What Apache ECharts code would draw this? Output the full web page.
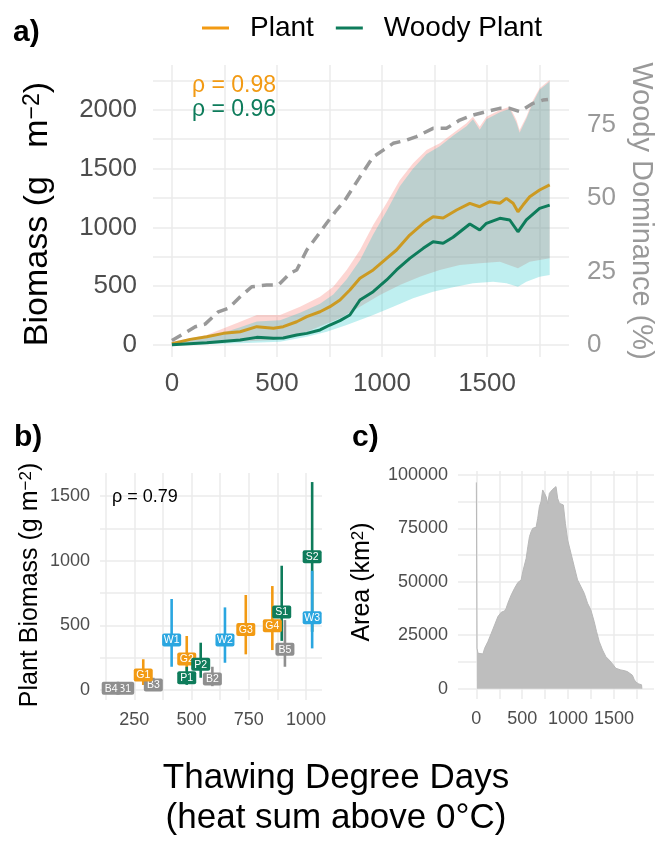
<!DOCTYPE html>
<html><head><meta charset="utf-8">
<script src="https://cdn.jsdelivr.net/npm/echarts@6/dist/echarts.min.js"></script>
<style>html,body{margin:0;padding:0;background:#fff}#c{width:657px;height:845px}</style>
</head><body><div id="c"></div>
<script>
const FONT = '"Liberation Sans", Arial, Helvetica, sans-serif';

// ---------- Panel a data ----------
const domX = [0, 8, 111, 158, 221, 269, 325, 380, 451, 507, 562, 594, 642, 689, 737, 784, 824, 895, 958, 1006, 1053, 1117, 1164, 1243, 1307, 1370, 1433, 1497, 1560, 1608, 1655, 1719, 1766, 1790];
const domY = [1.5, 1.9, 6.2, 7.1, 11.3, 12.5, 16.4, 19.8, 20.4, 20.4, 24.4, 25.5, 32.3, 36.8, 41.5, 45.9, 49.3, 57.2, 64.0, 66.3, 68.6, 69.7, 70.9, 73.7, 73.7, 76.5, 78.2, 79.4, 80.5, 80.5, 79.4, 82.2, 83.3, 83.5];

const plantX = [0, 87, 166, 245, 325, 404, 483, 530, 594, 642, 705, 752, 800, 847, 895, 958, 1022, 1069, 1132, 1196, 1243, 1291, 1355, 1418, 1465, 1513, 1561, 1592, 1624, 1647, 1671, 1703, 1750, 1798];
const plantY = [10, 48, 71, 99, 113, 156, 142, 156, 198, 241, 283, 326, 383, 468, 567, 638, 737, 808, 935, 1035, 1091, 1080, 1148, 1205, 1176, 1219, 1205, 1247, 1205, 1133, 1190, 1261, 1318, 1361];

const woodyX = [0, 166, 325, 404, 483, 530, 594, 642, 705, 752, 800, 847, 895, 958, 1022, 1069, 1132, 1196, 1243, 1291, 1338, 1418, 1465, 1497, 1561, 1608, 1647, 1687, 1750, 1798];
const woodyY = [2, 20, 43, 65, 57, 60, 85, 99, 128, 170, 207, 255, 383, 453, 553, 638, 737, 822, 878, 865, 916, 1029, 978, 1035, 1077, 1063, 963, 1063, 1162, 1190];

const plantUpX = [0, 166, 325, 404, 515, 610, 705, 768, 832, 895, 958, 1022, 1085, 1148, 1212, 1275, 1338, 1402, 1433, 1465, 1497, 1561, 1608, 1640, 1655, 1687, 1719, 1750, 1798];
const plantUpY = [28, 85, 198, 255, 255, 326, 411, 496, 638, 808, 1020, 1207, 1403, 1545, 1658, 1715, 1800, 1885, 1941, 1856, 1941, 1998, 2026, 1913, 1828, 1941, 2083, 2183, 2253];
const plantLoX = [0, 483, 642, 800, 895, 990, 1085, 1180, 1275, 1370, 1465, 1561, 1647, 1703, 1798];
const plantLoY = [0, 43, 113, 227, 326, 425, 510, 581, 638, 680, 695, 708, 652, 708, 737];

const woodyUpX = [0, 166, 325, 404, 515, 610, 705, 768, 832, 895, 958, 1022, 1085, 1148, 1212, 1275, 1338, 1402, 1433, 1465, 1497, 1561, 1608, 1640, 1655, 1687, 1719, 1750, 1798];
const woodyUpY = [20, 60, 150, 200, 210, 275, 350, 430, 560, 720, 940, 1140, 1350, 1500, 1625, 1690, 1780, 1860, 1920, 1830, 1920, 1980, 2010, 1890, 1805, 1925, 2065, 2170, 2240];
const woodyLoX = [0, 325, 515, 642, 737, 832, 958, 1053, 1148, 1243, 1338, 1433, 1529, 1592, 1647, 1687, 1750, 1798];
const woodyLoY = [0, 14, 28, 71, 113, 170, 255, 326, 397, 453, 491, 525, 538, 525, 496, 538, 581, 595];

// ---------- Panel b data ----------
const siteLabels  = ['B1','B2','B3','B4','B5','G1','G2','G3','G4','P1','P2','S1','S2','W1','W2','W3'];
const siteTDD     = [208, 591, 333, 149, 908, 289, 479, 737, 853, 479, 540, 894, 1027, 413, 646, 1027];
const siteBiomass = [13, 85, 39, 13, 315, 116, 240, 469, 497, 95, 199, 603, 1031, 387, 387, 559];
const siteLow     = [0, 30, 0, 0, 180, 39, 150, 276, 309, 40, 95, 380, 450, 180, 211, 322];
const siteHigh    = [30, 180, 95, 30, 541, 238, 418, 735, 804, 180, 366, 961, 1608, 704, 639, 922];

// ---------- Panel c data ----------
const histX = [0, 4, 7, 18, 72, 90, 126, 163, 199, 235, 271, 307, 325, 343, 380, 416, 452, 488, 506, 543, 561, 579, 597, 615, 651, 669, 687, 705, 723, 742, 760, 778, 796, 832, 850, 868, 886, 904, 922, 948, 970, 995, 1031, 1067, 1103, 1140, 1176, 1212, 1248, 1284, 1310, 1339, 1375, 1411, 1447, 1484, 1520, 1574, 1610, 1646, 1664, 1701, 1719, 1737, 1770, 1800, 1804];
const histY = [96500, 96500, 18890, 16550, 16240, 18890, 22010, 25910, 29810, 33710, 35740, 36360, 37610, 39950, 43850, 46970, 49620, 50870, 54770, 61010, 66460, 71140, 73480, 75040, 75510, 79720, 85180, 87520, 92980, 91420, 89860, 86740, 91420, 93290, 92980, 94540, 89080, 86740, 87520, 85960, 77380, 69580, 63340, 57100, 50870, 47740, 44620, 39950, 36830, 31370, 26690, 22010, 18110, 14990, 13430, 11560, 9530, 8750, 8440, 7970, 7500, 6250, 4380, 3140, 2200, 1800, 0];

const ORANGE = '#F29A13', GOLD = '#CC9A22', GREEN = '#0E7C5B', BLUE = '#2AA6E0', GREY = '#8F8F8F';
function colorOf(lab) {
  const c = lab[0];
  if (c === 'B') return GREY;
  if (c === 'G') return ORANGE;
  if (c === 'W') return BLUE;
  return GREEN;
}
const zip = (xs, ys) => xs.map((x, i) => [x, ys[i]]);

function valAxis(gridIndex, min, max, step, labelStep, labelOpts, extra) {
  return Object.assign({
    type: 'value', gridIndex, min, max, minInterval: step, maxInterval: step,
    axisLine: {show: false}, axisTick: {show: false},
    splitLine: {show: true, showMinLine: false, showMaxLine: false, lineStyle: {color: '#EBEBEB', width: 1.5}},
    axisLabel: Object.assign({
      formatter: v => (Math.abs(v % labelStep) < 1e-6 ? String(Math.round(v)) : ''),
      fontFamily: FONT, color: '#4D4D4D'
    }, labelOpts)
  }, extra || {});
}

function ribbon(upX, upY, loX, loY, fill, z) {
  return {
    type: 'custom', xAxisIndex: 0, yAxisIndex: 0, z, silent: true,
    data: [[0, 0]],
    renderItem: (params, api) => {
      const pts = [];
      for (let i = 0; i < upX.length; i++) pts.push(api.coord([upX[i], upY[i]]));
      for (let i = loX.length - 1; i >= 0; i--) pts.push(api.coord([loX[i], loY[i]]));
      return {type: 'polygon', shape: {points: pts}, style: {fill}};
    }
  };
}

function txt(x, y, text, size, fill, extra) {
  return Object.assign({type: 'text', x, y, z: 100,
    style: {text, fontSize: size, fontFamily: FONT, fill, align: 'left', verticalAlign: 'middle'}}, extra || {});
}

const chart = echarts.init(document.getElementById('c'), null, {renderer: 'canvas'});
chart.setOption({
  animation: false,
  backgroundColor: '#fff',
  grid: [
    {left: 153, top: 65, width: 416, height: 292},
    {left: 100, top: 473, width: 222, height: 227},
    {left: 458, top: 471, width: 197, height: 228}
  ],
  legend: {
    data: [{name: 'Plant', itemStyle: {color: ORANGE}}, {name: 'Woody Plant', itemStyle: {color: GREEN}}],
    left: 197, top: 9, icon: 'rect', itemWidth: 27, itemHeight: 3, itemGap: 22,
    textStyle: {fontSize: 28, fontFamily: FONT, color: '#000', padding: [0, 0, 0, 16]}
  },
  xAxis: [
    valAxis(0, -90, 1890, 250, 500, {fontSize: 26, margin: 14}),
    valAxis(1, 100, 1070, 125, 250, {fontSize: 18, margin: 11}),
    valAxis(2, -200, 1936, 250, 500, {fontSize: 18, margin: 11})
  ],
  yAxis: [
    valAxis(0, -102, 2381, 250, 500, {fontSize: 26, margin: 16}),
    valAxis(0, -4.08, 95.24, 25, 25, {fontSize: 26, margin: 18, color: '#999999'}, {position: 'right', splitLine: {show: false}}),
    valAxis(1, -77, 1678, 250, 500, {fontSize: 18, margin: 10}),
    valAxis(2, -4850, 101850, 12500, 25000, {fontSize: 18, margin: 10})
  ],
  series: [
    ribbon(plantUpX, plantUpY, plantLoX, plantLoY, 'rgba(248,118,109,0.30)', 2),
    ribbon(woodyUpX, woodyUpY, woodyLoX, woodyLoY, 'rgba(0,191,196,0.25)', 3),
    {name: 'Plant', type: 'line', xAxisIndex: 0, yAxisIndex: 0, z: 4, data: zip(plantX, plantY),
     showSymbol: false, symbol: 'none', color: ORANGE, itemStyle: {color: ORANGE}, lineStyle: {color: GOLD, width: 3}},
    {name: 'Woody Plant', type: 'line', xAxisIndex: 0, yAxisIndex: 0, z: 5, data: zip(woodyX, woodyY),
     showSymbol: false, symbol: 'none', color: GREEN, itemStyle: {color: GREEN}, lineStyle: {color: GREEN, width: 3}},
    {name: 'Woody Dominance', type: 'line', xAxisIndex: 0, yAxisIndex: 1, z: 6, data: zip(domX, domY),
     showSymbol: false, symbol: 'none', lineStyle: {color: '#999999', width: 3.5, type: [11, 7]}},
    // panel b error bars
    {type: 'custom', xAxisIndex: 1, yAxisIndex: 2, z: 2, silent: true,
     data: siteLabels.map((l, i) => [siteTDD[i], siteLow[i], siteHigh[i], i]),
     renderItem: (params, api) => {
       const i = api.value(3);
       const a = api.coord([api.value(0), api.value(1)]);
       const b = api.coord([api.value(0), api.value(2)]);
       return {type: 'line', shape: {x1: a[0], y1: a[1], x2: b[0], y2: b[1]},
               style: {stroke: colorOf(siteLabels[i]), lineWidth: 2.6}};
     }},
    // panel b labels
    {type: 'custom', xAxisIndex: 1, yAxisIndex: 2, z: 3, silent: true,
     data: siteLabels.map((l, i) => [siteTDD[i], siteBiomass[i], i]),
     renderItem: (params, api) => {
       const i = api.value(2);
       const p = api.coord([api.value(0), api.value(1)]);
       const lab = siteLabels[i];
       return {type: 'group', children: [
         {type: 'rect', shape: {x: p[0] - 9.5, y: p[1] - 6.5, width: 19, height: 13, r: 2}, style: {fill: colorOf(lab)}},
         {type: 'text', style: {text: lab, x: p[0], y: p[1] + 0.5, align: 'center', verticalAlign: 'middle',
                                 fill: '#fff', fontSize: 10.5, fontFamily: FONT}}
       ]};
     }},
    // panel c histogram
    {type: 'line', xAxisIndex: 2, yAxisIndex: 3, data: zip(histX, histY),
     showSymbol: false, symbol: 'none', lineStyle: {color: '#B8B8B8', width: 1},
     areaStyle: {color: '#BEBEBE', opacity: 1}}
  ],
  graphic: [
    txt(13, 33, 'a)', 30, '#000', {style: {text: 'a)', fontSize: 30, fontWeight: 'bold', fontFamily: FONT, fill: '#000', align: 'left', verticalAlign: 'middle'}}),
    txt(14, 438, 'b)', 30, '#000', {style: {text: 'b)', fontSize: 30, fontWeight: 'bold', fontFamily: FONT, fill: '#000', align: 'left', verticalAlign: 'middle'}}),
    txt(352, 438, 'c)', 30, '#000', {style: {text: 'c)', fontSize: 30, fontWeight: 'bold', fontFamily: FONT, fill: '#000', align: 'left', verticalAlign: 'middle'}}),
    txt(192, 86, 'ρ = 0.98', 23, ORANGE),
    txt(192, 110, 'ρ = 0.96', 23, GREEN),
    txt(112, 497, 'ρ = 0.79', 18, '#000'),
    {type: 'text', x: 38, y: 214, z: 100, rotation: Math.PI / 2,
     style: {text: '{t|Biomass (g   m}{s|−2}{t|)}', align: 'center', verticalAlign: 'middle',
             rich: {t: {fontSize: 34, fontFamily: FONT, fill: '#000'}, s: {fontSize: 23, fontFamily: FONT, fill: '#000', verticalAlign: 'top'}}}},
    {type: 'text', x: 641, y: 211, z: 100, rotation: -Math.PI / 2,
     style: {text: 'Woody Dominance (%)', fontSize: 29, fontFamily: FONT, fill: '#999999', align: 'center', verticalAlign: 'middle'}},
    {type: 'text', x: 30, y: 585, z: 100, rotation: Math.PI / 2,
     style: {text: '{t|Plant Biomass (g m}{s|−2}{t|)}', align: 'center', verticalAlign: 'middle',
             rich: {t: {fontSize: 25, fontFamily: FONT, fill: '#000'}, s: {fontSize: 17, fontFamily: FONT, fill: '#000', verticalAlign: 'top'}}}},
    {type: 'text', x: 362, y: 582, z: 100, rotation: Math.PI / 2,
     style: {text: '{t|Area (km}{s|2}{t|)}', align: 'center', verticalAlign: 'middle',
             rich: {t: {fontSize: 25, fontFamily: FONT, fill: '#000'}, s: {fontSize: 17, fontFamily: FONT, fill: '#000', verticalAlign: 'top'}}}},
    {type: 'text', x: 336, y: 778, z: 100, style: {text: 'Thawing Degree Days', fontSize: 35, fontFamily: FONT, fill: '#000', align: 'center', verticalAlign: 'middle'}},
    {type: 'text', x: 336, y: 818, z: 100, style: {text: '(heat sum above 0°C)', fontSize: 35, fontFamily: FONT, fill: '#000', align: 'center', verticalAlign: 'middle'}}
  ]
});
</script>
</body></html>
